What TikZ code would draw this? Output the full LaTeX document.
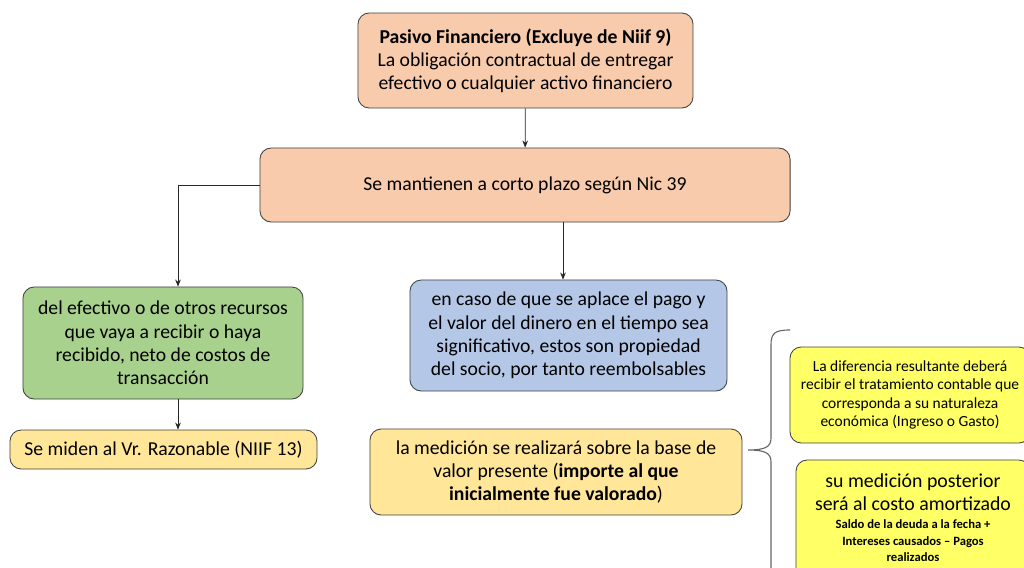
\documentclass[tikz,border=0pt]{standalone}
\usepackage{fontspec}
\setmainfont{Carlito}
\usepackage{xcolor}
\usetikzlibrary{arrows.meta, positioning}
\definecolor{durazno}{HTML}{F8CBAD}
\definecolor{verde}{HTML}{A9D18E}
\definecolor{azul}{HTML}{B4C7E7}
\definecolor{crema}{HTML}{FFE699}
\definecolor{limon}{HTML}{FFFF66}
\tikzset{
    caja/.style={draw=black!75, line width=0.6pt, rounded corners=8pt,
        align=center, inner sep=0pt, font=\fontsize{14}{16.5}\selectfont},
    flecha/.style={-{Stealth[length=5pt,width=4pt]}, line width=0.5pt, black!85}
}

\begin{document}
\begin{tikzpicture}[x=0.025cm, y=-0.025cm]
        \useasboundingbox (0,0) rectangle (1024,567);
        \clip (0,0) rectangle (1024,567);

        \node[caja, fill=durazno, minimum width=8.375cm, minimum height=2.375cm] (pasivo) at (525.5,60.5)
            {\textbf{Pasivo Financiero (Excluye de Niif 9)}\\
             La obligación contractual de entregar\\
             efectivo o cualquier activo financiero};
        \node[caja, fill=durazno, minimum width=13.25cm, minimum height=1.85cm] (plazo) at (525,185)
            {Se mantienen a corto plazo según Nic 39};
        \node[caja, fill=verde, minimum width=7cm, minimum height=2.8cm] (efectivo) at (163,343)
            {del efectivo o de otros recursos\\
             que vaya a recibir o haya\\
             recibido, neto de costos de\\
             transacción};
        \node[caja, fill=azul, minimum width=7.925cm, minimum height=2.775cm] (aplace) at (568.5,335.5)
            {en caso de que se aplace el pago y\\
             el valor del dinero en el tiempo sea\\
             significativo, estos son propiedad\\
             del socio, por tanto reembolsables};
        \node[caja, fill=crema, minimum width=7.675cm, minimum height=0.975cm] (razonable) at (163.5,449.5)
            {Se miden al Vr. Razonable (NIIF 13)};
        \node[caja, fill=crema, minimum width=9.3cm, minimum height=2.15cm] (medicion) at (556,472)
            {la medición se realizará sobre la base de\\
             valor presente (\textbf{importe al que}\\
             \textbf{inicialmente fue valorado})};
        \node[caja, fill=limon, minimum width=6cm, minimum height=2.4cm,
            font=\fontsize{11}{13}\selectfont] (diferencia) at (910,395)
            {La diferencia resultante deberá\\
             recibir el tratamiento contable que\\
             corresponda a su naturaleza\\
             económica (Ingreso o Gasto)};
        \node[caja, fill=limon, minimum width=5.85cm, minimum height=3cm,
            font=\fontsize{14.1}{16.5}\selectfont] (amortizado) at (913,520)
            {su medición posterior\\
             será al costo amortizado\\[-3.5pt]
             {\fontsize{9}{11.7}\selectfont\bfseries
             \begin{tabular}[t]{@{}c@{}}Saldo de la deuda a la fecha +\\
             Intereses causados – Pagos\\ realizados\end{tabular}}};

        \coordinate (punta) at (748,450);

        \draw[flecha] (pasivo) -- (plazo);
        \draw[flecha] (plazo.west) -| (efectivo.north -| 178,0);
        \draw[flecha] (plazo.south -| 563,0) -- (aplace.north -| 563,0);
        \draw[flecha] (efectivo.south -| 178,0) -- (razonable.north -| 178,0);

        \draw[black!60, line width=0.8pt] (790,330) .. controls (775,330) and (771,333) .. (771,345)
            -- (771,438) .. controls (771,447) and (765,450) .. (punta)
            .. controls (765,450) and (771,453) .. (771,462) -- (771,580);
\end{tikzpicture}
\end{document}
